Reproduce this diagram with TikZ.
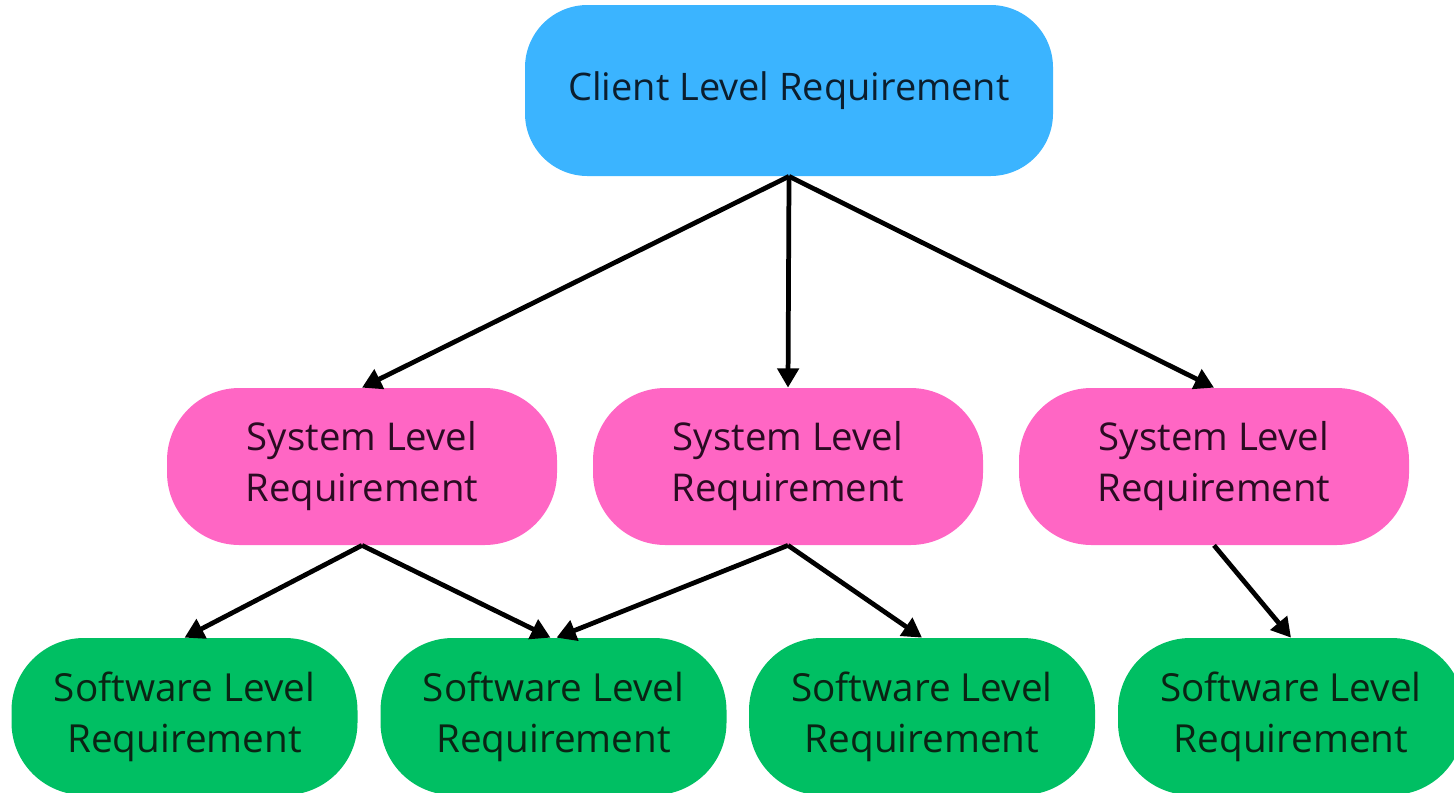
\documentclass[tikz,border=0pt]{standalone}
\usepackage{fontspec}
\setmainfont{Open Sans}
\usetikzlibrary{arrows.meta}
\definecolor{cblue}{HTML}{3BB4FF}
\definecolor{cpink}{HTML}{FF66C4}
\definecolor{cgreen}{HTML}{00BF63}
\definecolor{tblue}{HTML}{0B1E2E}
\definecolor{tpink}{HTML}{2A0B22}
\definecolor{tgreen}{HTML}{0A2414}
\tikzset{
  topbox/.style={rectangle, rounded corners=1.25cm, fill=cblue, minimum width=10.56cm, minimum height=3.42cm, inner sep=0pt, text=tblue, font=\fontsize{21.6}{29}\selectfont},
  midbox/.style={rectangle, rounded corners=1.45cm, fill=cpink, minimum width=7.8cm, minimum height=3.14cm, inner sep=0pt, align=center, text=tpink, font=\fontsize{21.8}{29}\selectfont},
  lowbox/.style={rectangle, rounded corners=1.45cm, fill=cgreen, minimum width=6.92cm, minimum height=3.14cm, inner sep=0pt, align=center, text=tgreen, font=\fontsize{22}{29}\selectfont},
  conn/.style={line width=2.7pt, -{Triangle[length=11pt,width=12pt]}},
}
\begin{document}
\begin{tikzpicture}
\useasboundingbox (0,0) rectangle (29.08,-15.84);
\node[topbox] (c) at (15.78,-1.81) {Client Level Requirement};
\node[midbox] (s1) at (7.24,-9.33) {System Level\\Requirement};
\node[midbox] (s2) at (15.76,-9.33) {System Level\\Requirement};
\node[midbox] (s3) at (24.28,-9.33) {System Level\\Requirement};
\node[lowbox] (w1) at (3.69,-14.33) {Software Level\\Requirement};
\node[lowbox] (w2) at (11.07,-14.33) {Software Level\\Requirement};
\node[lowbox] (w3) at (18.44,-14.33) {Software Level\\Requirement};
\node[lowbox] (w4) at (25.82,-14.33) {Software Level\\Requirement};
\draw[conn] (c.south) -- (s1.north);
\draw[conn] (c.south) -- (s2.north);
\draw[conn] (c.south) -- (s3.north);
\draw[conn] (s1.south) -- (w1.north);
\draw[conn] (s1.south) -- ([xshift=-0.06cm]w2.north);
\draw[conn] (s2.south) -- ([xshift=0.06cm]w2.north);
\draw[conn] (s2.south) -- (w3.north);
\draw[conn] (s3.south) -- (w4.north);
\end{tikzpicture}
\end{document}
